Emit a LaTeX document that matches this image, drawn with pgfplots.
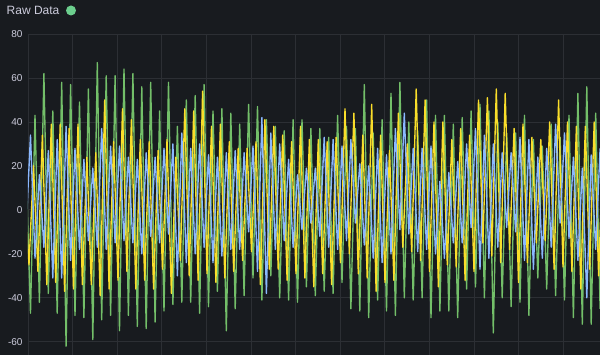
\documentclass[border=0pt]{standalone}
\usepackage{pgfplots}
\pgfplotsset{compat=1.18}
\usepackage{fontspec}
\setmainfont{Liberation Sans}
\definecolor{bg}{HTML}{181B1F}
\definecolor{gridc}{HTML}{2C2F34}
\definecolor{txt}{HTML}{CCCCDC}
\definecolor{gr}{HTML}{73BF69}
\definecolor{dot}{HTML}{6CCF8E}
\definecolor{ye}{HTML}{FADE2A}
\definecolor{bl}{HTML}{8AB8FF}
\begin{document}
\begin{tikzpicture}[x=1pt,y=1pt]
\fill[bg] (0,0) rectangle (600,355);
\begin{axis}[at={(28pt,0pt)}, anchor=south west, scale only axis,
  width=572pt, height=321pt, xmin=28, xmax=600, ymin=-66, ymax=80,
  axis line style={draw=none},
  ytick={-60,-40,...,80},
  xtick={28,72.6,117.2,161.8,206.4,251,295.6,340.2,384.8,429.4,474,518.6,563.2},
  xticklabels={},
  grid=major, grid style={gridc, line width=0.8pt},
  major tick length=0pt,
  yticklabel style={font=\fontsize{10}{11}\selectfont, text=txt, xshift=-2pt},
  /pgf/number format/assume math mode=true,
  every axis plot/.append style={line width=1.35pt, line join=round}]
\addplot[gr] coordinates {(26,20) (30.5,-47) (35.0,43) (39.4,-42) (43.9,62) (48.3,-38) (52.8,45) (57.2,-47) (61.7,58) (66.1,-62) (70.6,57) (75.0,-48) (79.5,49) (83.9,-49) (88.4,55) (92.8,-59) (97.3,67) (101.7,-50) (106.2,61) (110.6,-48) (115.1,61) (119.5,-55) (124.0,64) (128.4,-48) (132.9,62) (137.3,-53) (141.8,56) (146.2,-54) (150.7,58) (155.1,-51) (159.6,45) (164.0,-46) (168.5,58) (172.9,-43) (177.4,38) (181.8,-42) (186.3,50) (190.7,-42) (195.2,52) (199.6,-47) (204.1,57) (208.5,-44) (213.0,45) (217.4,-37) (221.9,46) (226.3,-55) (230.8,44) (235.2,-45) (239.7,39) (244.1,-39) (248.6,48) (253.0,-31) (257.5,47) (261.9,-41) (266.4,41) (270.8,-30) (275.3,38) (279.7,-40) (284.2,36) (288.6,-41) (293.1,41) (297.5,-42) (302.0,41) (306.4,-35) (310.9,37) (315.3,-39) (319.8,37) (324.2,-37) (328.7,33) (333.1,-38) (337.6,43) (342.0,-33) (346.5,38) (350.9,-45) (355.4,37) (359.8,-46) (364.3,57) (368.7,-49) (373.2,35) (377.6,-41) (382.1,41) (386.5,-46) (391.0,53) (395.4,-48) (399.9,58) (404.3,-40) (408.8,40) (413.2,-41) (417.7,36) (422.1,-40) (426.6,50) (431.0,-49) (435.5,43) (439.9,-46) (444.4,43) (448.8,-46) (453.3,39) (457.7,-49) (462.2,42) (466.6,-36) (471.1,45) (475.5,-35) (480.0,48) (484.4,-40) (488.9,45) (493.3,-56) (497.8,40) (502.2,-40) (506.7,35) (511.1,-44) (515.6,35) (520.0,-42) (524.5,43) (528.9,-48) (533.4,32) (537.8,-31) (542.3,29) (546.7,-36) (551.2,39) (555.6,-39) (560.1,33) (564.5,-41) (569.0,43) (573.4,-49) (577.9,53) (582.3,-52) (586.8,56) (591.2,-52) (595.7,44) (600.1,-45)};
\addplot[ye] coordinates {(24.5,10) (29.0,-25) (33.5,20) (37.9,-28) (42.4,34) (46.8,-34) (51.3,39) (55.7,-33) (60.2,39) (64.6,-37) (69.1,37) (73.5,-36) (78.0,39) (82.4,-34) (86.9,24) (91.3,-34) (95.8,26) (100.2,-39) (104.7,50) (109.1,-36) (113.6,31) (118.0,-32) (122.5,46) (126.9,-28) (131.4,41) (135.8,-36) (140.3,32) (144.7,-32) (149.2,31) (153.6,-36) (158.1,27) (162.5,-27) (167.0,32) (171.4,-38) (175.9,24) (180.3,-23) (184.8,46) (189.2,-30) (193.7,45) (198.1,-32) (202.6,54) (207.0,-29) (211.5,38) (215.9,-33) (220.4,39) (224.8,-31) (229.3,31) (233.7,-28) (238.2,28) (242.6,-23) (247.1,28) (251.5,-19) (256.0,31) (260.4,-34) (264.9,41) (269.3,-27) (273.8,38) (278.2,-27) (282.7,34) (287.1,-32) (291.6,31) (296.0,-29) (300.5,38) (304.9,-31) (309.4,32) (313.8,-35) (318.3,32) (322.7,-29) (327.2,31) (331.6,-34) (336.1,33) (340.5,-24) (345.0,46) (349.4,-20) (353.9,44) (358.3,-29) (362.8,34) (367.2,-31) (371.7,48) (376.1,-37) (380.6,34) (385.0,-33) (389.5,27) (393.9,-32) (398.4,44) (402.8,-17) (407.3,30) (411.7,-19) (416.2,55) (420.6,-23) (425.1,50) (429.5,-28) (434.0,40) (438.4,-35) (442.9,40) (447.3,-25) (451.8,32) (456.2,-26) (460.7,37) (465.1,-32) (469.6,34) (474.0,-28) (478.5,50) (482.9,-15) (487.4,51) (491.8,-21) (496.3,55) (500.7,-24) (505.2,53) (509.6,-18) (514.1,37) (518.5,-33) (523.0,39) (527.4,-24) (531.9,33) (536.3,-15) (540.8,32) (545.2,-14) (549.7,40) (554.1,-27) (558.6,50) (563.0,-26) (567.5,40) (571.9,-28) (576.4,38) (580.8,-36) (585.3,38) (589.7,-27) (594.2,40) (598.6,-30) (603.1,30)};
\addplot[bl] coordinates {(26,-10) (30.5,34) (35.0,-22) (39.4,16) (43.9,-17) (48.3,27) (52.8,-31) (57.2,32) (61.7,-31) (66.1,38) (70.6,-23) (75.0,28) (79.5,-18) (83.9,23) (88.4,-14) (92.8,19) (97.3,-17) (101.7,37) (106.2,-18) (110.6,29) (115.1,-15) (119.5,29) (124.0,-14) (128.4,24) (132.9,-15) (137.3,23) (141.8,-20) (146.2,26) (150.7,-12) (155.1,24) (159.6,-15) (164.0,28) (168.5,-11) (172.9,30) (177.4,-30) (181.8,35) (186.3,-24) (190.7,28) (195.2,-20) (199.6,30) (204.1,-17) (208.5,25) (213.0,-24) (217.4,24) (221.9,-21) (226.3,26) (230.8,-18) (235.2,27) (239.7,-18) (244.1,26) (248.6,-10) (253.0,29) (257.5,-28) (261.9,42) (266.4,-38) (270.8,35) (275.3,-18) (279.7,30) (284.2,-14) (288.6,23) (293.1,-17) (297.5,16) (302.0,-9) (306.4,19) (310.9,-6) (315.3,19) (319.8,-12) (324.2,33) (328.7,-17) (333.1,32) (337.6,-18) (342.0,29) (346.5,-14) (350.9,32) (355.4,-6) (359.8,21) (364.3,-16) (368.7,20) (373.2,-22) (377.6,28) (382.1,-24) (386.5,25) (391.0,-20) (395.4,37) (399.9,-9) (404.3,44) (408.8,-11) (413.2,28) (417.7,-19) (422.1,28) (426.6,-18) (431.0,29) (435.5,-20) (439.9,13) (444.4,-22) (448.8,17) (453.3,-15) (457.7,22) (462.2,-15) (466.6,30) (471.1,-8) (475.5,37) (480.0,-27) (484.4,34) (488.9,-22) (493.3,30) (497.8,-17) (502.2,26) (506.7,-8) (511.1,26) (515.6,-10) (520.0,33) (524.5,-23) (528.9,32) (533.4,-27) (537.8,24) (542.3,-22) (546.7,28) (551.2,-17) (555.6,39) (560.1,-6) (564.5,35) (569.0,-13) (573.4,24) (577.9,-23) (582.3,19) (586.8,-40) (591.2,25) (595.7,-18) (600.1,28)};
\end{axis}
\node[anchor=base west, text=txt, font=\fontsize{12}{14}\selectfont, inner sep=0pt] at (6.5,340) {Raw Data};
\fill[dot] (71,344.5) circle (5);
\pgfresetboundingbox
\useasboundingbox (0,0) rectangle (600,355);
\end{tikzpicture}
\end{document}
